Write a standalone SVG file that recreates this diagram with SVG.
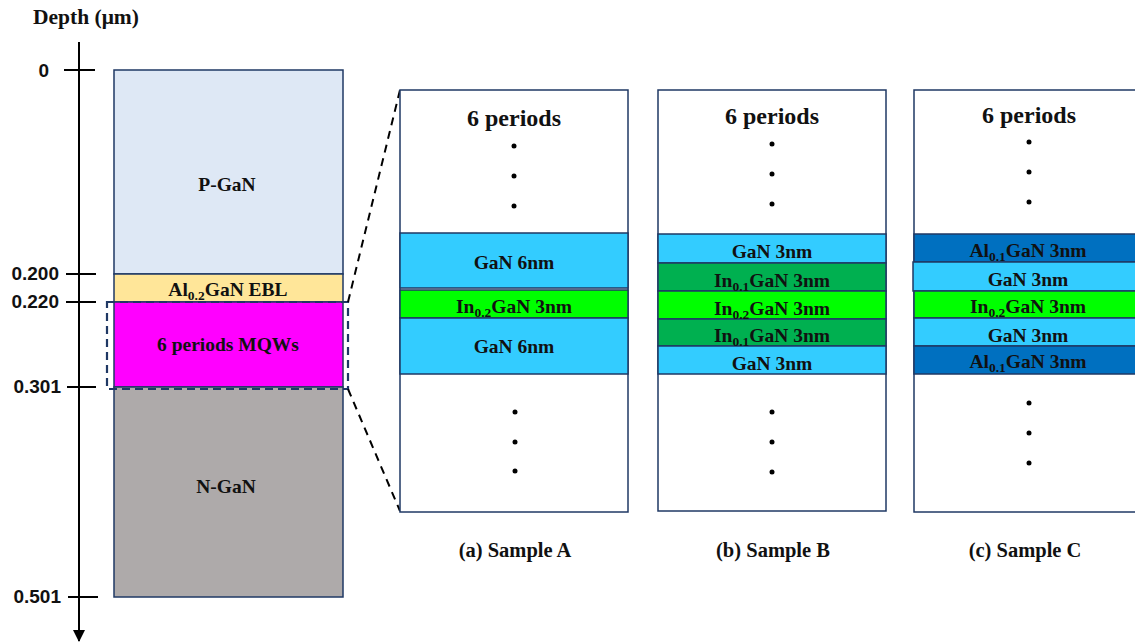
<svg xmlns="http://www.w3.org/2000/svg" width="1135" height="643" viewBox="0 0 1135 643">
  <defs>
    <style>
      .layer { stroke: #1f3864; stroke-width: 1.5; }
      .box { fill: #ffffff; stroke: #1f3864; stroke-width: 1.5; }
      .serif { font-family: "Liberation Serif", "Times New Roman", serif; font-weight: bold; fill: #111; }
      .lbl { font-size: 19.5px; text-anchor: middle; }
      .big { font-size: 24px; text-anchor: middle; }
      .cap { font-size: 20.5px; text-anchor: middle; }
      .tick { font-family: "Liberation Sans", Arial, sans-serif; font-weight: bold; font-size: 19px; text-anchor: end; fill: #111; }
      .axis { stroke: #000; stroke-width: 2; fill: none; }
      .zoom { stroke: #000; stroke-width: 2; stroke-dasharray: 8 6; fill: none; }
      .sel { stroke: #1f3864; stroke-width: 2.2; stroke-dasharray: 8 5; fill: none; }
      .dot { fill: #000; }
    </style>
    <marker id="arrow" viewBox="0 0 12 12" refX="11" refY="6" markerWidth="12" markerHeight="12" markerUnits="userSpaceOnUse" orient="auto">
      <path d="M0,0 L12,6 L0,12 Z" fill="#000"/>
    </marker>
  </defs>

  <rect width="1135" height="643" fill="#ffffff"/>

  <!-- depth axis -->
  <g id="depth-axis">
    <text class="serif" x="33" y="24" font-size="21.5">Depth (μm)</text>
    <line class="axis" x1="79" y1="42" x2="79" y2="641" marker-end="url(#arrow)"/>
    <line class="axis" x1="64" y1="70" x2="95" y2="70"/>
    <line class="axis" x1="66" y1="274" x2="96" y2="274"/>
    <line class="axis" x1="66" y1="302" x2="96" y2="302"/>
    <line class="axis" x1="67" y1="387" x2="96" y2="387"/>
    <line class="axis" x1="68" y1="597" x2="98" y2="597"/>
    <text class="tick" x="49" y="77">0</text>
    <text class="tick" x="59" y="280">0.200</text>
    <text class="tick" x="59" y="308">0.220</text>
    <text class="tick" x="61" y="393">0.301</text>
    <text class="tick" x="61" y="603">0.501</text>
  </g>

  <!-- epitaxial stack -->
  <g id="p-gan">
    <rect class="layer" x="114" y="70" width="229" height="204" fill="#dee8f5"/>
    <text class="serif lbl" x="227" y="191">P-GaN</text>
  </g>
  <g id="ebl">
    <rect class="layer" x="114" y="274" width="229" height="28" fill="#ffe699"/>
    <text class="serif lbl" x="228" y="296">Al<tspan font-size="13.5" dy="4">0.2</tspan><tspan dy="-4">GaN EBL</tspan></text>
  </g>
  <g id="mqw">
    <rect class="layer" x="114" y="302" width="229" height="85" fill="#ff00ff"/>
    <text class="serif lbl" x="228" y="351">6 periods MQWs</text>
  </g>
  <g id="n-gan">
    <rect class="layer" x="114" y="387" width="229" height="210" fill="#aeaaaa"/>
    <text class="serif lbl" x="226" y="493">N-GaN</text>
  </g>

  <!-- MQW selection and zoom-out lines -->
  <g id="connectors">
    <rect class="sel" x="107" y="302" width="241" height="87"/>
    <line class="zoom" x1="348" y1="302" x2="400" y2="90"/>
    <line class="zoom" x1="348" y1="389" x2="400" y2="511"/>
  </g>

  <!-- sample A -->
  <g id="sample-a">
    <rect class="box" x="400" y="90" width="228" height="422"/>
    <text class="serif big" x="514" y="126">6 periods</text>
    <circle class="dot" cx="514" cy="146" r="2.5"/>
    <circle class="dot" cx="514" cy="176" r="2.5"/>
    <circle class="dot" cx="514" cy="206" r="2.5"/>
    <rect class="layer" x="400" y="233" width="228" height="55" fill="#33ccff"/>
    <rect class="layer" x="400" y="290" width="228" height="28" fill="#00ff00"/>
    <rect class="layer" x="400" y="318" width="228" height="56" fill="#33ccff"/>
    <text class="serif lbl" x="514" y="269">GaN 6nm</text>
    <text class="serif lbl" x="514" y="313">In<tspan font-size="13.5" dy="4">0.2</tspan><tspan dy="-4">GaN 3nm</tspan></text>
    <text class="serif lbl" x="514" y="353">GaN 6nm</text>
    <circle class="dot" cx="515" cy="412" r="2.5"/>
    <circle class="dot" cx="515" cy="442" r="2.5"/>
    <circle class="dot" cx="515" cy="471" r="2.5"/>
    <text class="serif cap" x="515" y="557">(a) Sample A</text>
  </g>

  <!-- sample B -->
  <g id="sample-b">
    <rect class="box" x="658" y="90" width="228" height="421"/>
    <text class="serif big" x="772" y="124">6 periods</text>
    <circle class="dot" cx="772" cy="144" r="2.5"/>
    <circle class="dot" cx="772" cy="174" r="2.5"/>
    <circle class="dot" cx="772" cy="204" r="2.5"/>
    <rect class="layer" x="658" y="234" width="228" height="29" fill="#33ccff"/>
    <rect class="layer" x="658" y="263" width="228" height="28" fill="#00b050"/>
    <rect class="layer" x="658" y="291" width="228" height="28" fill="#00ff00"/>
    <rect class="layer" x="658" y="319" width="228" height="27" fill="#00b050"/>
    <rect class="layer" x="658" y="346" width="228" height="28" fill="#33ccff"/>
    <text class="serif lbl" x="772" y="258">GaN 3nm</text>
    <text class="serif lbl" x="772" y="287">In<tspan font-size="13.5" dy="4">0.1</tspan><tspan dy="-4">GaN 3nm</tspan></text>
    <text class="serif lbl" x="772" y="315">In<tspan font-size="13.5" dy="4">0.2</tspan><tspan dy="-4">GaN 3nm</tspan></text>
    <text class="serif lbl" x="772" y="342">In<tspan font-size="13.5" dy="4">0.1</tspan><tspan dy="-4">GaN 3nm</tspan></text>
    <text class="serif lbl" x="772" y="370">GaN 3nm</text>
    <circle class="dot" cx="772" cy="412" r="2.5"/>
    <circle class="dot" cx="772" cy="442" r="2.5"/>
    <circle class="dot" cx="772" cy="472" r="2.5"/>
    <text class="serif cap" x="773" y="557">(b) Sample B</text>
  </g>

  <!-- sample C -->
  <g id="sample-c">
    <rect class="box" x="914" y="90" width="240" height="422"/>
    <text class="serif big" x="1029" y="123">6 periods</text>
    <circle class="dot" cx="1029" cy="142" r="2.5"/>
    <circle class="dot" cx="1029" cy="172" r="2.5"/>
    <circle class="dot" cx="1029" cy="202" r="2.5"/>
    <rect class="layer" x="914" y="234" width="240" height="28" fill="#0070c0"/>
    <rect class="layer" x="913" y="262" width="241" height="29" fill="#33ccff"/>
    <rect class="layer" x="914" y="291" width="240" height="27" fill="#00ff00"/>
    <rect class="layer" x="914" y="318" width="240" height="28" fill="#33ccff"/>
    <rect class="layer" x="914" y="346" width="240" height="28" fill="#0070c0"/>
    <text class="serif lbl" x="1028" y="257">Al<tspan font-size="13.5" dy="4">0.1</tspan><tspan dy="-4">GaN 3nm</tspan></text>
    <text class="serif lbl" x="1028" y="286">GaN 3nm</text>
    <text class="serif lbl" x="1028" y="313">In<tspan font-size="13.5" dy="4">0.2</tspan><tspan dy="-4">GaN 3nm</tspan></text>
    <text class="serif lbl" x="1028" y="342">GaN 3nm</text>
    <text class="serif lbl" x="1028" y="368">Al<tspan font-size="13.5" dy="4">0.1</tspan><tspan dy="-4">GaN 3nm</tspan></text>
    <circle class="dot" cx="1029" cy="403" r="2.5"/>
    <circle class="dot" cx="1029" cy="433" r="2.5"/>
    <circle class="dot" cx="1029" cy="463" r="2.5"/>
    <text class="serif cap" x="1025" y="557">(c) Sample C</text>
  </g>
</svg>
